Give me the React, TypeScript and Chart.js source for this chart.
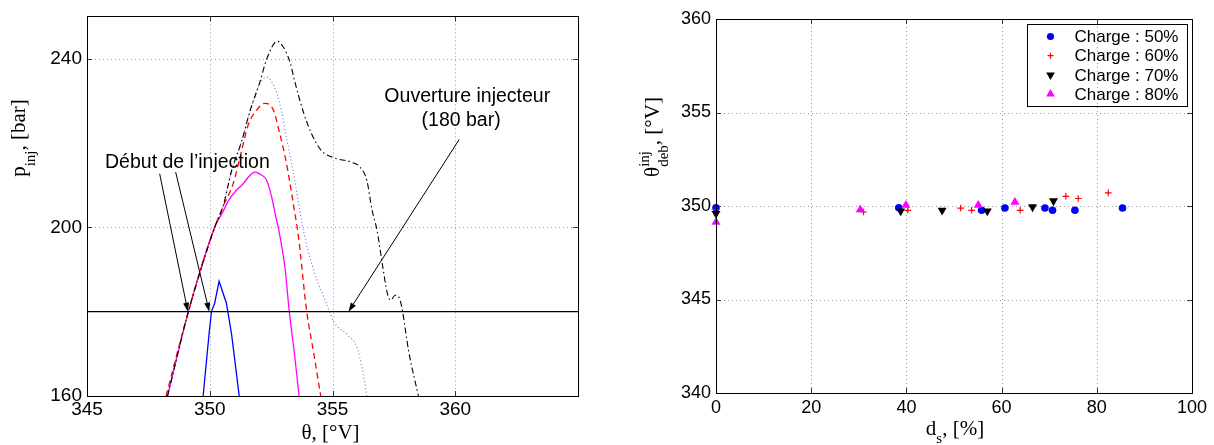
import React, { useEffect, useRef } from "react";
import { Chart, registerables } from "chart.js";

Chart.register(...registerables);

const SANS = "'Liberation Sans', Arial, Helvetica, sans-serif";
const SERIF = "'Liberation Serif', 'Times New Roman', serif";

// ---------------- Left chart: injection pressure vs crank angle ----------------
const angleTicks = [345, 350, 355, 360];
const pressureTicks = [160, 200, 240];
const angleRange = [345, 365];
const pressureRange = [160, 250];

const thresholdLine = [[345, 180], [365, 180]];

const curveBlue = [
  [349.73, 160], [349.97, 174.6], [350.07, 180], [350.2, 182], [350.38, 187.2],
  [350.68, 182], [350.89, 174.6], [351.2, 160],
];
const curveMagenta = [
  [348.28, 160], [349.13, 180], [350.2, 200], [350.54, 203.7], [350.75, 206.2],
  [351.09, 208.8], [351.36, 210.3], [351.63, 212.3], [351.84, 213.1], [352.05, 212.6],
  [352.32, 211.1], [352.52, 207.2], [352.66, 203.3], [352.86, 197.9], [353.07, 190.1],
  [353.24, 180], [353.45, 170], [353.64, 160],
];
const curveRed = [
  [348.22, 160], [349.13, 180], [350.2, 200], [350.54, 204.9], [350.95, 210.3],
  [351.23, 216.5], [351.57, 224.3], [351.91, 227.8], [352.25, 229.4], [352.59, 227.8],
  [352.86, 222], [353.13, 215], [353.4, 205.7], [353.61, 197.9], [353.95, 180],
  [354.22, 170.7], [354.52, 160],
];
const curveDotted = [
  [348.28, 160], [349.13, 180], [350.2, 200], [350.54, 204.9], [350.89, 213.4],
  [351.3, 220.4], [351.63, 227.0], [351.97, 233.2], [352.32, 235.6], [352.66, 232.9],
  [352.93, 227.4], [353.07, 222.8], [353.34, 215], [353.68, 203.7], [353.81, 199.4],
  [354.22, 190.1], [354.83, 180.8], [355.04, 177.7], [355.59, 174.6], [356.0, 171.5],
  [356.2, 166.8], [356.4, 160],
];
const curveBlack = [
  [348.28, 160], [349.13, 180], [350.2, 200], [350.54, 204.9], [350.89, 213.4],
  [351.3, 220.4], [351.63, 227.4], [352.04, 234.4], [352.32, 239.9], [352.75, 244.1],
  [352.99, 242.8], [353.27, 239.1], [353.47, 234.4], [353.81, 227.4], [354.16, 222],
  [354.56, 218.1], [355.04, 216.5], [355.79, 215.4], [356.13, 214.2], [356.4, 211.1],
  [356.61, 204.1], [356.81, 199.4], [357.02, 191.7], [357.22, 184.7], [357.36, 182.7],
  [357.56, 183.9], [357.7, 183.5], [357.83, 180.8], [358.1, 170.7], [358.5, 160],
];

const annotationLabels = ["Début de l’injection", "Ouverture injecteur", "(180 bar)"];
const annotationAnchors = [[349.09, 214.1], [360.49, 229.6], [360.24, 224.1]];
const arrowStarts = [[347.96, 212.7], [348.61, 213.1], [360.16, 220.8]];
const arrowEnds = [[349.11, 180], [349.98, 180], [355.65, 180]];

// ---------------- Right chart: start of injection vs ds ----------------
const dsTicks = [0, 20, 40, 60, 80, 100];
const thetaTicks = [340, 345, 350, 355, 360];
const legendLabels = ["Charge : 50%", "Charge : 60%", "Charge : 70%", "Charge : 80%"];

const charge50Ds = [0, 38.4, 55.8, 60.7, 69.1, 70.7, 75.4, 85.4];
const charge50Theta = [349.91, 349.91, 349.77, 349.89, 349.89, 349.77, 349.77, 349.89];

const charge60Ds = [0, 31.0, 40.3, 51.4, 53.7, 63.9, 73.5, 76.1, 82.4];
const charge60Theta = [349.8, 349.68, 349.77, 349.89, 349.77, 349.77, 350.52, 350.4, 350.7];

const charge70Ds = [0, 38.8, 47.5, 57.0, 66.5, 70.9];
const charge70Theta = [349.59, 349.73, 349.77, 349.73, 349.95, 350.27];

const charge80Ds = [0, 30.3, 39.9, 55.1, 62.8];
const charge80Theta = [349.14, 349.8, 350.04, 350.04, 350.2];

// ---------------- helpers ----------------
type Part = { t: string; size: number; dy?: number };
type Seg = Part | { stack: Part[] };

function drawRich(ctx: CanvasRenderingContext2D, segs: Seg[], x: number, y: number, rotated: boolean) {
  ctx.save();
  ctx.translate(x, y);
  if (rotated) ctx.rotate(-Math.PI / 2);
  ctx.fillStyle = "#000";
  ctx.textBaseline = "alphabetic";
  ctx.textAlign = "left";
  const w = (p: Part) => {
    ctx.font = `${p.size}px ${SERIF}`;
    return ctx.measureText(p.t).width;
  };
  const widths = segs.map((s: any) => (s.stack ? Math.max(...s.stack.map(w)) : w(s)));
  const total = widths.reduce((a, b) => a + b, 0);
  let u = -total / 2;
  segs.forEach((s: any, i) => {
    const parts: Part[] = s.stack ? s.stack : [s];
    parts.forEach((p) => {
      ctx.font = `${p.size}px ${SERIF}`;
      ctx.fillText(p.t, u, p.dy || 0);
    });
    u += widths[i];
  });
  ctx.restore();
}

const toXY = (pts: number[][]) => pts.map(([x, y]) => ({ x, y }));
const zipXY = (xs: number[], ys: number[]) => xs.map((x, i) => ({ x, y: ys[i] }));

const framePlugin = {
  id: "frameGrid",
  beforeDatasetsDraw(chart: any) {
    const { ctx, chartArea: a, scales } = chart;
    ctx.save();
    ctx.lineWidth = 1;
    ctx.strokeStyle = "#9a9a9a";
    ctx.setLineDash([1, 3]);
    for (const t of scales.x.ticks) {
      const px = Math.round(scales.x.getPixelForValue(t.value)) + 0.5;
      if (px <= a.left + 1.5 || px >= a.right - 1.5) continue;
      ctx.beginPath();
      ctx.moveTo(px, a.top);
      ctx.lineTo(px, a.bottom);
      ctx.stroke();
    }
    for (const t of scales.y.ticks) {
      const py = Math.round(scales.y.getPixelForValue(t.value)) + 0.5;
      if (py <= a.top + 1.5 || py >= a.bottom - 1.5) continue;
      ctx.beginPath();
      ctx.moveTo(a.left, py);
      ctx.lineTo(a.right, py);
      ctx.stroke();
    }
    ctx.setLineDash([]);
    ctx.strokeStyle = "#333";
    const L = 5;
    for (const t of scales.x.ticks) {
      const px = Math.round(scales.x.getPixelForValue(t.value)) + 0.5;
      ctx.beginPath();
      ctx.moveTo(px, a.bottom);
      ctx.lineTo(px, a.bottom - L);
      ctx.moveTo(px, a.top);
      ctx.lineTo(px, a.top + L);
      ctx.stroke();
    }
    for (const t of scales.y.ticks) {
      const py = Math.round(scales.y.getPixelForValue(t.value)) + 0.5;
      ctx.beginPath();
      ctx.moveTo(a.left, py);
      ctx.lineTo(a.left + L, py);
      ctx.moveTo(a.right, py);
      ctx.lineTo(a.right - L, py);
      ctx.stroke();
    }
    ctx.restore();
  },
  afterDatasetsDraw(chart: any) {
    const { ctx, chartArea: a } = chart;
    ctx.save();
    ctx.strokeStyle = "#000";
    ctx.lineWidth = 1;
    ctx.strokeRect(Math.round(a.left) + 0.5, Math.round(a.top) + 0.5, Math.round(a.right - a.left), Math.round(a.bottom - a.top));
    ctx.restore();
  },
};

function drawArrow(ctx: CanvasRenderingContext2D, x1: number, y1: number, x2: number, y2: number) {
  const ang = Math.atan2(y2 - y1, x2 - x1);
  const len = 9;
  const hw = 3;
  ctx.beginPath();
  ctx.moveTo(x1, y1);
  ctx.lineTo(x2 - Math.cos(ang) * len * 0.8, y2 - Math.sin(ang) * len * 0.8);
  ctx.stroke();
  ctx.beginPath();
  ctx.moveTo(x2, y2);
  ctx.lineTo(x2 - Math.cos(ang) * len - Math.sin(ang) * hw, y2 - Math.sin(ang) * len + Math.cos(ang) * hw);
  ctx.lineTo(x2 - Math.cos(ang) * len + Math.sin(ang) * hw, y2 - Math.sin(ang) * len - Math.cos(ang) * hw);
  ctx.closePath();
  ctx.fill();
}

const leftDecor = {
  id: "leftDecor",
  afterDraw(chart: any) {
    const { ctx, chartArea: a, scales } = chart;
    const X = (v: number) => scales.x.getPixelForValue(v);
    const Y = (v: number) => scales.y.getPixelForValue(v);
    ctx.save();
    ctx.strokeStyle = "#000";
    ctx.fillStyle = "#000";
    ctx.lineWidth = 1;
    arrowStarts.forEach((s, i) => drawArrow(ctx, X(s[0]), Y(s[1]), X(arrowEnds[i][0]), Y(arrowEnds[i][1])));
    ctx.font = `19.5px ${SANS}`;
    ctx.textAlign = "center";
    ctx.textBaseline = "alphabetic";
    annotationLabels.forEach((t, i) => ctx.fillText(t, X(annotationAnchors[i][0]), Y(annotationAnchors[i][1])));
    ctx.restore();
    // axis titles
    drawRich(ctx, [{ t: "θ, [°V]", size: 21 }], (a.left + a.right) / 2 - 2, a.bottom + 42.5, false);
    drawRich(
      ctx,
      [{ t: "p", size: 21 }, { t: "inj", size: 15, dy: 10 }, { t: ", [bar]", size: 21 }],
      24.5,
      138,
      true
    );
  },
};

function drawMarker(ctx: CanvasRenderingContext2D, style: string, x: number, y: number, r: number, color: string, rot: number) {
  ctx.save();
  ctx.fillStyle = color;
  ctx.strokeStyle = color;
  if (style === "circle") {
    ctx.beginPath();
    ctx.arc(x, y, r, 0, Math.PI * 2);
    ctx.fill();
  } else if (style === "cross") {
    ctx.lineWidth = 1.2;
    ctx.beginPath();
    ctx.moveTo(x - r, y);
    ctx.lineTo(x + r, y);
    ctx.moveTo(x, y - r);
    ctx.lineTo(x, y + r);
    ctx.stroke();
  } else {
    const s = rot ? -1 : 1;
    ctx.beginPath();
    ctx.moveTo(x, y - s * r);
    ctx.lineTo(x + r * 0.866, y + s * r * 0.5);
    ctx.lineTo(x - r * 0.866, y + s * r * 0.5);
    ctx.closePath();
    ctx.fill();
  }
  ctx.restore();
}

const rightDecor = {
  id: "rightDecor",
  afterDraw(chart: any) {
    const { ctx, chartArea: a } = chart;
    // legend
    const bw = 160;
    const bh = 82;
    const bx = Math.round(a.right - 5 - bw) + 0.5;
    const by = Math.round(a.top + 5) + 0.5;
    ctx.save();
    ctx.strokeStyle = "#000";
    ctx.lineWidth = 1;
    ctx.strokeRect(bx, by, bw, bh);
    ctx.font = `17px ${SANS}`;
    ctx.fillStyle = "#000";
    ctx.textAlign = "left";
    ctx.textBaseline = "middle";
    const ds = chart.data.datasets;
    legendLabels.forEach((lab, i) => {
      const d = ds[i];
      const yy = by + 12 + i * 19.2;
      drawMarker(ctx, d.pointStyle, bx + 23, yy, d.pointStyle === "circle" ? 3.6 : d.pointStyle === "cross" ? 3 : 5, d.borderColor, d.pointRotation || 0);
      ctx.fillStyle = "#000";
      ctx.fillText(lab, bx + 47, yy + 1);
    });
    ctx.restore();
    drawRich(ctx, [{ t: "d", size: 21 }, { t: "s", size: 15, dy: 8 }, { t: ", [%]", size: 21 }], (a.left + a.right) / 2 + 1, a.bottom + 42, false);
    drawRich(
      ctx,
      [
        { t: "θ", size: 21 },
        { stack: [{ t: "inj", size: 15, dy: -10 }, { t: "deb", size: 15, dy: 9 }] },
        { t: ", [°V]", size: 21 },
      ],
      58.5,
      137,
      true
    );
  },
};

export default function App() {
  const leftRef = useRef<HTMLCanvasElement>(null);
  const rightRef = useRef<HTMLCanvasElement>(null);

  useEffect(() => {
    const lineDs = (pts: number[][], color: string, width: number, dash: number[], smooth: boolean, order: number) => ({
      data: toXY(pts),
      borderColor: color,
      backgroundColor: color,
      borderWidth: width,
      borderDash: dash,
      pointRadius: 0,
      fill: false,
      cubicInterpolationMode: smooth ? "monotone" : "default",
      tension: 0,
      order,
    });

    const left = new Chart(leftRef.current as HTMLCanvasElement, {
      type: "line",
      data: {
        datasets: [
          lineDs(curveMagenta, "#ff00ff", 1.3, [], true, 5),
          lineDs(curveDotted, "#6b6be6", 1.1, [1, 2.5], true, 4),
          lineDs(curveRed, "#ff0000", 1.3, [6, 4], true, 3),
          lineDs(curveBlack, "#000000", 1.1, [6, 3, 1.5, 3], true, 2),
          lineDs(curveBlue, "#0000ff", 1.3, [], false, 1),
          lineDs(thresholdLine, "#000000", 1.3, [], false, 0),
        ] as any,
      },
      options: {
        animation: false,
        responsive: false,
        devicePixelRatio: 1,
        events: [],
        layout: { padding: { left: 0, right: 22, top: 12, bottom: 0 } },
        plugins: { legend: { display: false }, tooltip: { enabled: false } },
        scales: {
          x: {
            type: "linear",
            min: angleRange[0],
            max: angleRange[1],
            afterBuildTicks: (s: any) => {
              s.ticks = angleTicks.map((v) => ({ value: v }));
            },
            afterFit: (s: any) => {
              s.height = 49;
            },
            grid: { display: false, drawTicks: false },
            border: { display: false },
            ticks: { color: "#000", font: { family: SANS, size: 19 }, padding: 2, maxRotation: 0, autoSkip: false },
          },
          y: {
            type: "linear",
            min: pressureRange[0],
            max: pressureRange[1],
            afterBuildTicks: (s: any) => {
              s.ticks = pressureTicks.map((v) => ({ value: v }));
            },
            afterFit: (s: any) => {
              s.width = 87;
            },
            grid: { display: false, drawTicks: false },
            border: { display: false },
            ticks: { color: "#000", font: { family: SANS, size: 19 }, padding: 5, autoSkip: false },
          },
        },
      } as any,
      plugins: [framePlugin, leftDecor],
    });

    const right = new Chart(rightRef.current as HTMLCanvasElement, {
      type: "scatter",
      data: {
        datasets: [
          {
            label: legendLabels[0],
            data: zipXY(charge50Ds, charge50Theta),
            pointStyle: "circle",
            pointRadius: 3.8,
            borderWidth: 0,
            borderColor: "#0000ff",
            backgroundColor: "#0000ff",
            clip: false,
            order: 4,
          },
          {
            label: legendLabels[1],
            data: zipXY(charge60Ds, charge60Theta),
            pointStyle: "cross",
            pointRadius: 3.3,
            borderWidth: 1.2,
            borderColor: "#ff0000",
            backgroundColor: "#ff0000",
            clip: false,
            order: 3,
          },
          {
            label: legendLabels[2],
            data: zipXY(charge70Ds, charge70Theta),
            pointStyle: "triangle",
            pointRotation: 180,
            pointRadius: 5.2,
            borderWidth: 0,
            borderColor: "#000000",
            backgroundColor: "#000000",
            clip: false,
            order: 2,
          },
          {
            label: legendLabels[3],
            data: zipXY(charge80Ds, charge80Theta),
            pointStyle: "triangle",
            pointRadius: 5.2,
            borderWidth: 0,
            borderColor: "#ff00ff",
            backgroundColor: "#ff00ff",
            clip: false,
            order: 1,
          },
        ] as any,
      },
      options: {
        animation: false,
        responsive: false,
        devicePixelRatio: 1,
        events: [],
        layout: { padding: { left: 0, right: 22, top: 19, bottom: 0 } },
        plugins: { legend: { display: false }, tooltip: { enabled: false } },
        scales: {
          x: {
            type: "linear",
            min: dsTicks[0],
            max: dsTicks[dsTicks.length - 1],
            afterBuildTicks: (s: any) => {
              s.ticks = dsTicks.map((v) => ({ value: v }));
            },
            afterFit: (s: any) => {
              s.height = 52;
            },
            grid: { display: false, drawTicks: false },
            border: { display: false },
            ticks: { color: "#000", font: { family: SANS, size: 18 }, padding: 4, maxRotation: 0, autoSkip: false },
          },
          y: {
            type: "linear",
            min: thetaTicks[0],
            max: thetaTicks[thetaTicks.length - 1],
            afterBuildTicks: (s: any) => {
              s.ticks = thetaTicks.map((v) => ({ value: v }));
            },
            afterFit: (s: any) => {
              s.width = 116;
            },
            grid: { display: false, drawTicks: false },
            border: { display: false },
            ticks: { color: "#000", font: { family: SANS, size: 18 }, padding: 5, autoSkip: false },
          },
        },
      } as any,
      plugins: [framePlugin, rightDecor],
    });

    return () => {
      left.destroy();
      right.destroy();
    };
  }, []);

  return (
    <div style={{ position: "absolute", left: 0, top: 0, width: 1214, height: 445, background: "#fff", overflow: "hidden" }}>
      <canvas ref={leftRef} width={600} height={445} style={{ position: "absolute", left: 0, top: 0, width: 600, height: 445 }} />
      <canvas ref={rightRef} width={614} height={445} style={{ position: "absolute", left: 600, top: 0, width: 614, height: 445 }} />
    </div>
  );
}
